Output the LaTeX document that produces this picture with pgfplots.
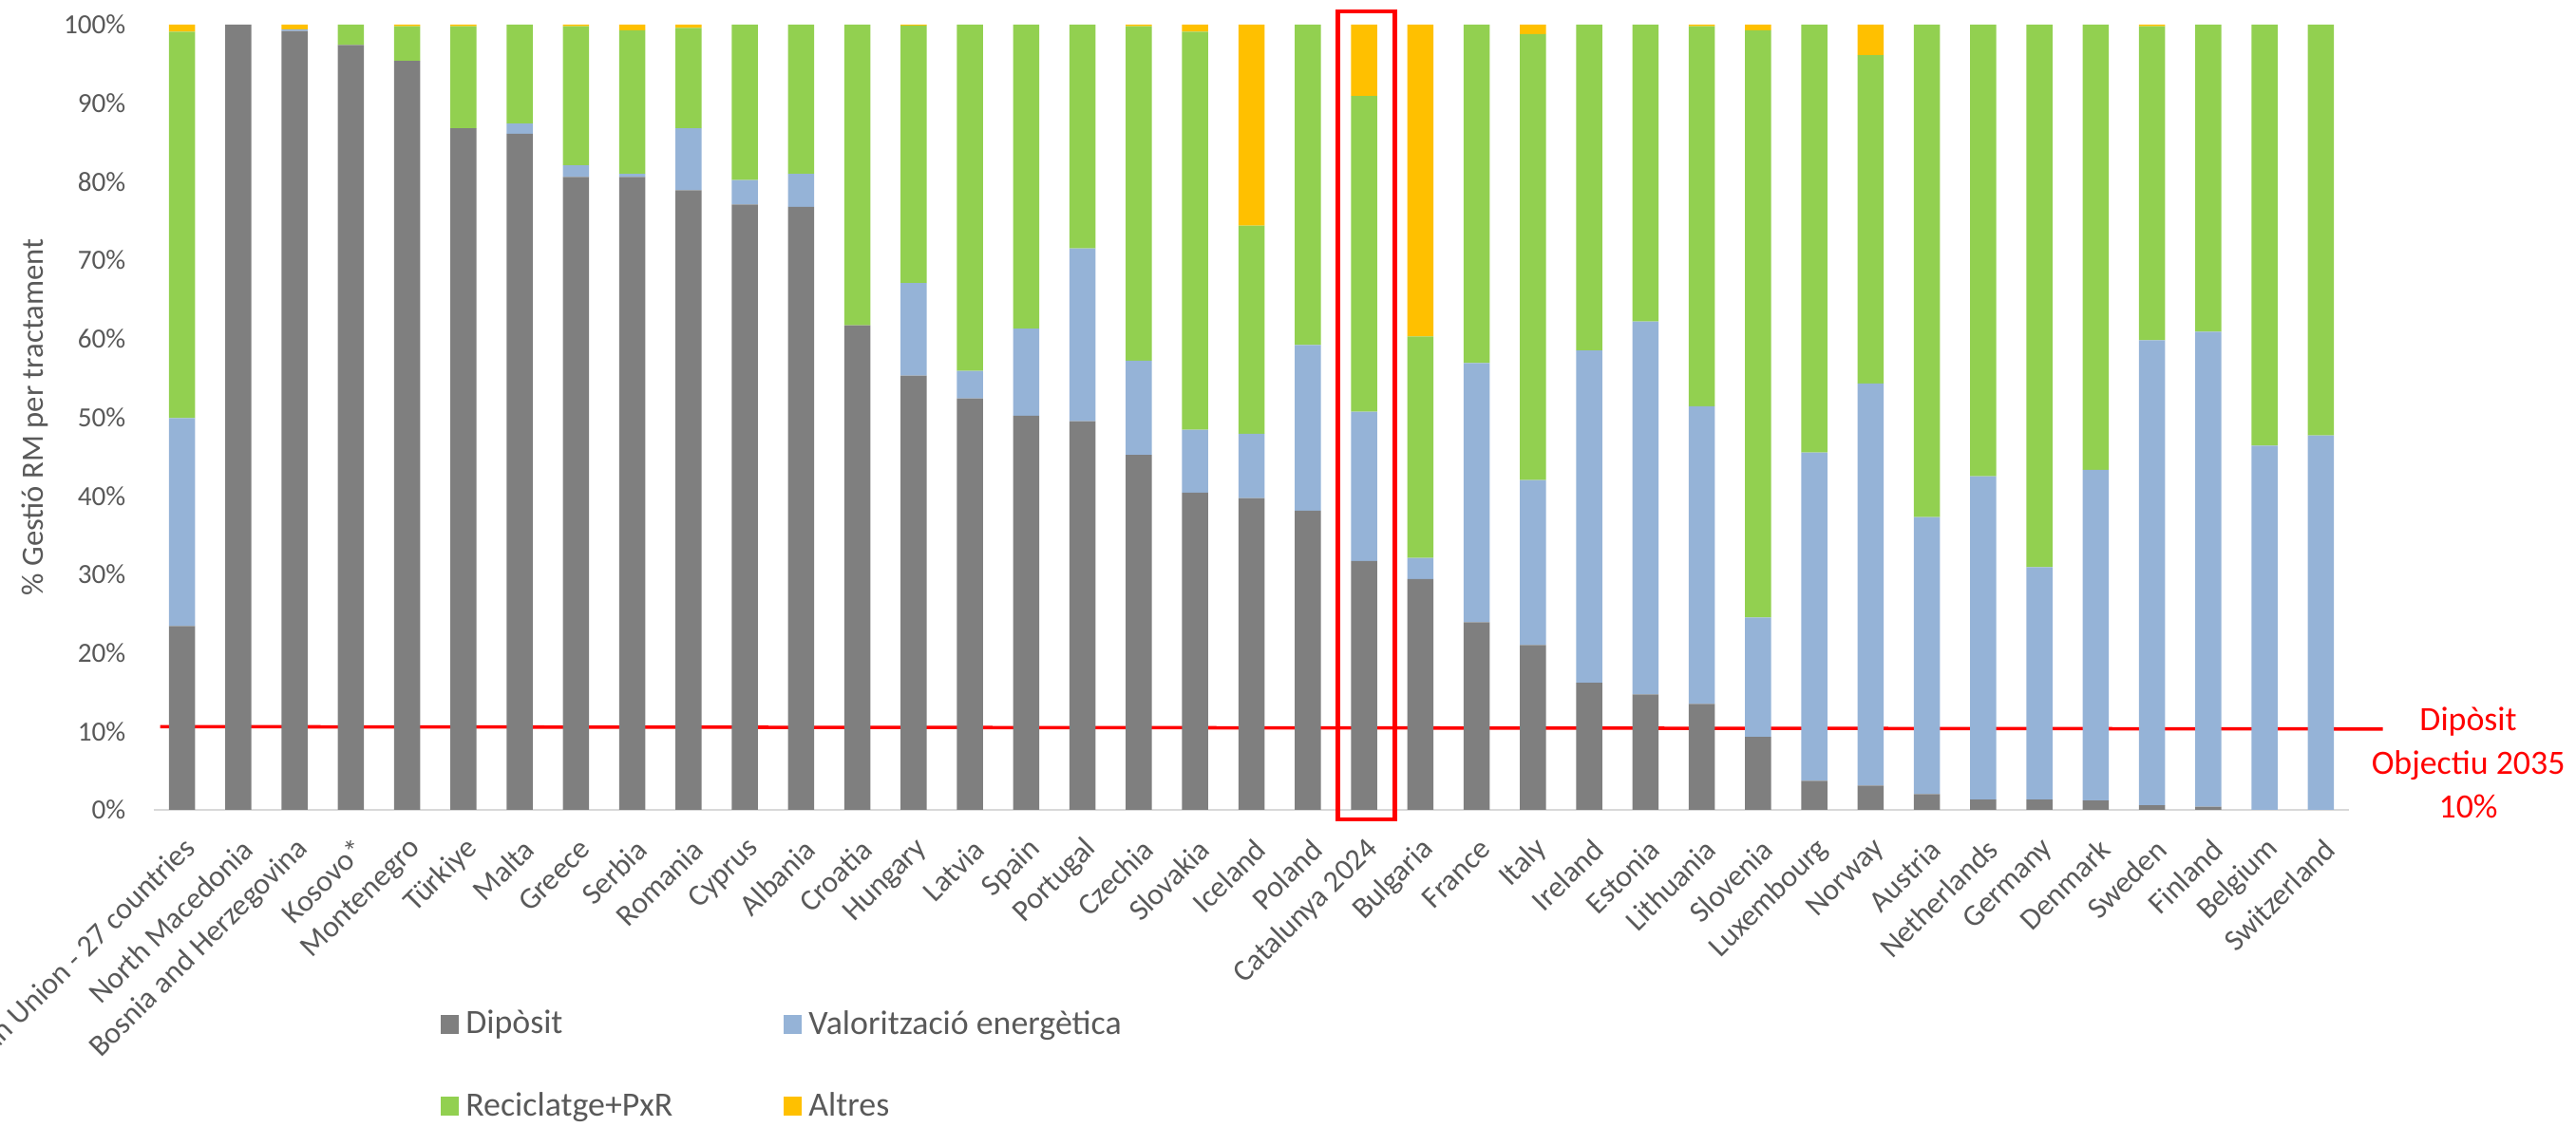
\documentclass[border=0pt]{standalone}
\usepackage{pgfplots}
\pgfplotsset{compat=1.18}
\usepackage{pgfplotstable}
\usepackage{fontspec}
\setmainfont{Carlito}

\definecolor{dep}{HTML}{7F7F7F}
\definecolor{val}{HTML}{95B3D7}
\definecolor{rec}{HTML}{92D050}
\definecolor{alt}{HTML}{FFC000}
\definecolor{txt}{HTML}{595959}
\definecolor{axl}{HTML}{D9D9D9}

% x D(diposit) V(valoritzacio) R(reciclatge+PxR) A(altres), in %
\pgfplotstableread{
x D V R A
0 23.4 26.5 49.2 0.9
1 100.0 0.0 0.0 0.0
2 99.2 0.2 0.0 0.6
3 97.4 0.0 2.6 0.0
4 95.4 0.0 4.4 0.2
5 86.8 0.0 13.0 0.2
6 86.1 1.3 12.6 0.0
7 80.6 1.5 17.7 0.2
8 80.6 0.4 18.3 0.7
9 78.9 7.9 12.8 0.4
10 77.1 3.1 19.8 0.0
11 76.8 4.2 19.0 0.0
12 61.7 0.0 38.3 0.0
13 55.3 11.8 32.8 0.1
14 52.4 3.5 44.1 0.0
15 50.2 11.1 38.7 0.0
16 49.5 22.0 28.5 0.0
17 45.2 12.0 42.6 0.2
18 40.4 8.0 50.7 0.9
19 39.7 8.2 26.5 25.6
20 38.1 21.1 40.8 0.0
21 31.7 19.0 40.2 9.1
22 29.4 2.7 28.2 39.7
23 23.9 33.0 43.1 0.0
24 21.0 21.0 56.8 1.2
25 16.2 42.3 41.5 0.0
26 14.7 47.5 37.8 0.0
27 13.5 37.9 48.4 0.2
28 9.3 15.2 74.8 0.7
29 3.7 41.8 54.5 0.0
30 3.1 51.2 41.8 3.9
31 2.0 35.3 62.7 0.0
32 1.3 41.2 57.5 0.0
33 1.3 29.6 69.1 0.0
34 1.2 42.1 56.7 0.0
35 0.6 59.2 40.0 0.2
36 0.4 60.5 39.1 0.0
37 0.0 46.4 53.6 0.0
38 0.0 47.7 52.3 0.0
}\data

\begin{document}
\begin{tikzpicture}
\begin{axis}[
  at={(0,0)}, anchor=south west,
  scale only axis, width=231.1mm, height=82.7mm,
  ybar stacked, bar width=2.75mm,
  xmin=-0.5, xmax=38.5, ymin=0, ymax=100,
  clip=false,
  axis x line*=bottom, axis y line*=left,
  x axis line style={draw=axl, line width=0.8pt, -},
  y axis line style={draw=none},
  major tick length=0pt,
  xtick={0,...,38},
  xticklabels={European Union - 27 countries, North Macedonia, Bosnia and Herzegovina, Kosovo*, Montenegro, Türkiye, Malta, Greece, Serbia, Romania, Cyprus, Albania, Croatia, Hungary, Latvia, Spain, Portugal, Czechia, Slovakia, Iceland, Poland, Catalunya 2024, Bulgaria, France, Italy, Ireland, Estonia, Lithuania, Slovenia, Luxembourg, Norway, Austria, Netherlands, Germany, Denmark, Sweden, Finland, Belgium, Switzerland},
  xticklabel style={xshift=1.0mm, yshift=-3.6mm, rotate=45, anchor=east, inner sep=0pt, text=txt, font=\fontsize{9.1}{10}\selectfont},
  ytick={0,10,...,100},
  yticklabels={0\%,10\%,20\%,30\%,40\%,50\%,60\%,70\%,80\%,90\%,100\%},
  yticklabel style={xshift=-2.9mm, inner sep=0pt, anchor=east, text=txt, font=\fontsize{8.3}{10}\selectfont},
  ylabel={\% Gestió RM per tractament},
  ylabel style={at={(axis description cs:-0.0541,0.5)}, anchor=center, text=txt, font=\fontsize{9.3}{11}\selectfont},
  legend columns=2,
  legend cell align=left,
  legend style={at={(axis description cs:0.1305,-0.246)}, anchor=north west, draw=none, fill=none,
    inner sep=0pt, text=txt, font=\fontsize{10.2}{12}\selectfont, row sep=4.2mm,
    /tikz/every even column/.append style={column sep=11mm}},
]
\addplot[fill=dep, draw=none, legend image code/.code={\fill[dep] (0mm,-1mm) rectangle (1.9mm,1mm);}] table[x=x, y=D] {\data};
\addplot[fill=val, draw=none, legend image code/.code={\fill[val] (0mm,-1mm) rectangle (1.9mm,1mm);}] table[x=x, y=V] {\data};
\addplot[fill=rec, draw=none, legend image code/.code={\fill[rec] (0mm,-1mm) rectangle (1.9mm,1mm);}] table[x=x, y=R] {\data};
\addplot[fill=alt, draw=none, legend image code/.code={\fill[alt] (0mm,-1mm) rectangle (1.9mm,1mm);}] table[x=x, y=A] {\data};
\legend{Dipòsit, Valorització energètica, Reciclatge+PxR, Altres}

% objectiu 2035 i requadre Catalunya
\draw[red, line width=1pt] (axis cs:-0.39,10.6) -- (axis cs:39.1,10.3);
\draw[red, line width=1.3pt] (axis cs:20.54,101.7) rectangle (axis cs:21.55,-1.2);
\node[text=red, align=center, font=\fontsize{10.2}{13}\selectfont] at (axis cs:40.62,6.0) {Dipòsit\\Objectiu 2035\\10\%};
\end{axis}
\pgfresetboundingbox
\path[use as bounding box] (-16.2mm,-33.4mm) rectangle (255.0mm,85.3mm);
\end{tikzpicture}
\end{document}
